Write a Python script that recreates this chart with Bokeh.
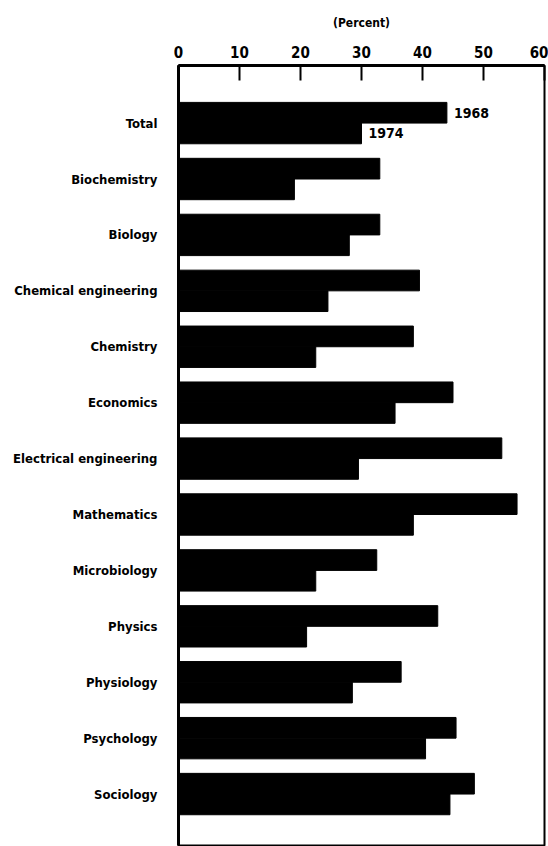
from bokeh.plotting import figure
from bokeh.models import Range1d, FixedTicker, ColumnDataSource
from bokeh.core.properties import value
from bokeh.embed import file_html
from bokeh.resources import INLINE

categories = ["Total", "Biochemistry", "Biology", "Chemical engineering", "Chemistry",
              "Economics", "Electrical engineering", "Mathematics", "Microbiology",
              "Physics", "Physiology", "Psychology", "Sociology"]
pct_1968 = [44, 33, 33, 39.5, 38.5, 45, 53, 55.5, 32.5, 42.5, 36.5, 45.5, 48.5]
pct_1974 = [30, 19, 28, 24.5, 22.5, 35.5, 29.5, 38.5, 22.5, 21, 28.5, 40.5, 44.5]
x_ticks = [0, 10, 20, 30, 40, 50, 60]
series_labels = ["1968", "1974"]

FONT = "DejaVu Sans Condensed"
BAR_H = 0.37
OFF = 0.185

idx = list(range(len(categories)))
src = ColumnDataSource(dict(
    y68=[i - OFF for i in idx], y74=[i + OFF for i in idx],
    v68=pct_1968, v74=pct_1974))

p = figure(width=548, height=846, output_backend="svg", toolbar_location=None,
           x_range=Range1d(0, 60), y_range=Range1d(12.92, -1.03),
           x_axis_location="above", min_border_left=178, min_border_right=4,
           min_border_top=65, min_border_bottom=1)

p.hbar(y="y68", left=0, right="v68", height=BAR_H, source=src,
       fill_color="black", line_color="black")
p.hbar(y="y74", left=0, right="v74", height=BAR_H, source=src,
       fill_color="black", line_color="black")

lab = ColumnDataSource(dict(x=[pct_1968[0], pct_1974[0]], y=[0 - OFF, 0 + OFF],
                            t=series_labels))
p.text(x="x", y="y", text="t", source=lab, x_offset=7, text_baseline="middle",
       text_font=value(FONT), text_font_style="bold", text_font_size="14px",
       text_color="black")

p.xgrid.visible = False
p.ygrid.visible = False
p.outline_line_color = "black"
p.outline_line_width = 2

xa = p.xaxis[0]
xa.ticker = FixedTicker(ticks=x_ticks)
xa.axis_label = "(Percent)"
xa.axis_label_text_font = FONT
xa.axis_label_text_font_style = "bold"
xa.axis_label_text_font_size = "12px"
xa.axis_label_text_color = "black"
xa.axis_label_standoff = 13
xa.major_label_text_font = FONT
xa.major_label_text_font_style = "bold"
xa.major_label_text_font_size = "15px"
xa.major_label_text_color = "black"
xa.major_label_standoff = 8
xa.major_tick_in = 15
xa.major_tick_out = 0
xa.major_tick_line_width = 2
xa.major_tick_line_color = "black"
xa.minor_tick_line_color = None
xa.axis_line_width = 3
xa.axis_line_color = "black"

ya = p.yaxis[0]
ya.ticker = FixedTicker(ticks=idx)
ya.major_label_overrides = {i: c for i, c in zip(idx, categories)}
ya.major_label_text_font = FONT
ya.major_label_text_font_style = "bold"
ya.major_label_text_font_size = "13px"
ya.major_label_text_color = "black"
ya.major_label_standoff = 15
ya.major_tick_line_color = None
ya.minor_tick_line_color = None
ya.axis_line_width = 3
ya.axis_line_color = "black"

open("out.html", "w").write(file_html(p, INLINE))
